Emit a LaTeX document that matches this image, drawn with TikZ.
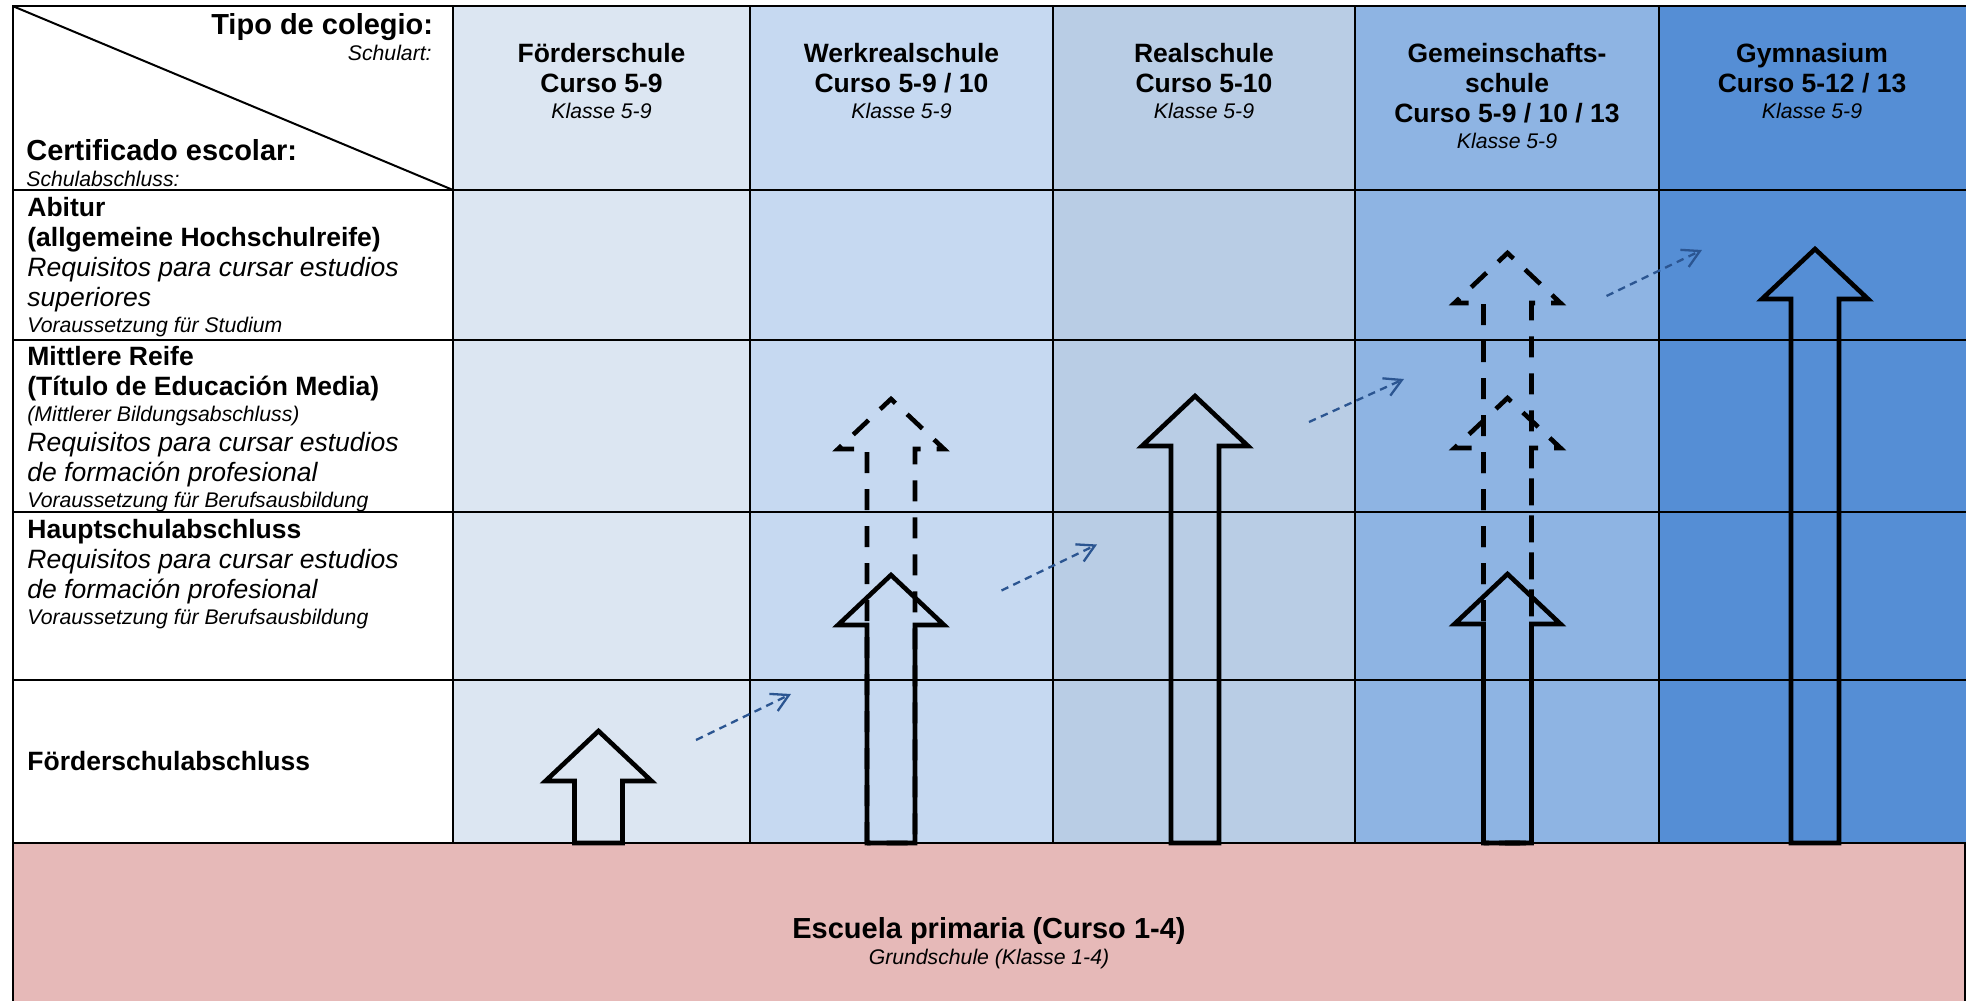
\documentclass[tikz,border=0pt]{standalone}
\usepackage{fontspec}
\setmainfont{Liberation Sans}
\usetikzlibrary{arrows.meta}

\definecolor{colFoerder}{HTML}{DCE6F2}
\definecolor{colWerk}{HTML}{C6D9F1}
\definecolor{colReal}{HTML}{B9CDE5}
\definecolor{colGemein}{HTML}{8EB4E3}
\definecolor{colGym}{HTML}{558ED5}
\definecolor{colPrim}{HTML}{E6B9B8}
\definecolor{colPass}{HTML}{2B5591}

% font sizes
\newcommand\fntTitle{\fontsize{14.5pt}{17pt}\selectfont\bfseries}
\newcommand\fntBold{\fontsize{13.25pt}{15pt}\selectfont\bfseries}
\newcommand\fntItal{\fontsize{13.25pt}{15pt}\selectfont\itshape}
\newcommand\fntSmall{\fontsize{10.6pt}{13pt}\selectfont\itshape}
% one line of a cell
\newcommand\lnTitle[1]{{\fntTitle #1\par}}
\newcommand\lnBold[1]{{\fntBold #1\par}}
\newcommand\lnItal[1]{{\fntItal #1\par}}
\newcommand\lnSmall[1]{{\fntSmall #1\par}}
% cell boxes, baseline = first line
\newcommand\leftcell[1]{\vtop{\hsize=210pt\parindent=0pt\parskip=0pt\raggedright #1}}
\newcommand\centercell[2]{\vtop{\hsize=#1\parindent=0pt\parskip=0pt\centering #2}}
% block arrow: style, centre x, tip y
\newcommand\schoolarrow[3]{%
  \draw[#1] ({#2-24},843) -- ({#2-24},{#3+50}) -- ({#2-53},{#3+50}) -- (#2,#3)
    -- ({#2+53},{#3+50}) -- ({#2+24},{#3+50}) -- ({#2+24},843) -- cycle;}

\begin{document}
\begin{tikzpicture}[x=0.5pt, y=-0.5pt,
    every node/.style={inner sep=0pt},
    tablerule/.style={draw=black, line width=1pt},
    solidarrow/.style={draw=black, line width=2.3pt, line join=miter},
    dasharrow/.style={solidarrow, dash pattern=on 10.5pt off 8pt},
    passarrow/.style={draw=colPass, line width=1.15pt, dash pattern=on 3.75pt off 2.75pt,
      -{Straight Barb[length=8.5pt, width=9.5pt]}}]
  \useasboundingbox (0,0) rectangle (1966,1001);
  % Column fills
  \foreach \xa/\xb/\col in {453/750/colFoerder, 750/1053/colWerk, 1053/1355/colReal,
                            1355/1659/colGemein, 1659/1966/colGym} {
    \fill[\col] (\xa,6) rectangle (\xb,843);
  }
  \fill[colPrim] (12.5,843) rectangle (1966,1010);
  % Table rules
  \foreach \x in {453, 750, 1053, 1355, 1659} {
    \draw[tablerule] (\x,6) -- (\x,843);
  }
  \foreach \y in {190, 340, 512, 680, 843} {
    \draw[tablerule] (12.5,\y) -- (1966,\y);
  }
  \draw[tablerule] (12.5,1010) -- (12.5,6) -- (1966,6);
  \draw[tablerule] (1965,843) -- (1965,1010);
  \draw[tablerule] (12.5,6) -- (453,190);
  % Corner cell
  \node[anchor=base east, font=\fntTitle] (tipo) at (433.5,34) {Tipo de colegio:};
  \node[anchor=base east, font=\fntSmall] (schulart) at (432,61) {Schulart:};
  \node[anchor=base west, font=\fntTitle] (certif) at (26,160) {Certificado escolar:};
  \node[anchor=base west, font=\fntSmall] (schulab) at (26,186) {Schulabschluss:};
  % School types
  \node[anchor=base] (hfoerder) at (601.5,62)
    {\centercell{140pt}{\lnBold{Förderschule}\lnBold{Curso 5-9}\lnSmall{Klasse 5-9}}};
  \node[anchor=base] (hwerk) at (901.5,62)
    {\centercell{140pt}{\lnBold{Werkrealschule}\lnBold{Curso 5-9 / 10}\lnSmall{Klasse 5-9}}};
  \node[anchor=base] (hreal) at (1204,62)
    {\centercell{140pt}{\lnBold{Realschule}\lnBold{Curso 5-10}\lnSmall{Klasse 5-9}}};
  \node[anchor=base] (hgemein) at (1507,62)
    {\centercell{140pt}{\lnBold{Gemeinschafts-}\lnBold{schule}\lnBold{Curso 5-9 / 10 / 13}\lnSmall{Klasse 5-9}}};
  \node[anchor=base] (hgym) at (1812,62)
    {\centercell{140pt}{\lnBold{Gymnasium}\lnBold{Curso 5-12 / 13}\lnSmall{Klasse 5-9}}};
  % Certificates
  \node[anchor=base west] (rabitur) at (27,216.7)
    {\leftcell{\lnBold{Abitur}\lnBold{(allgemeine Hochschulreife)}%
      \lnItal{Requisitos para cursar estudios}\lnItal{superiores}%
      \lnSmall{Voraussetzung für Studium}}};
  \node[anchor=base west] (rmittlere) at (27,365)
    {\leftcell{\lnBold{Mittlere Reife}\lnBold{(Título de Educación Media)}%
      \lnSmall{(Mittlerer Bildungsabschluss)}%
      \lnItal{Requisitos para cursar estudios}\lnItal{de formación profesional}%
      \lnSmall{Voraussetzung für Berufsausbildung}}};
  \node[anchor=base west] (rhaupt) at (27,538.3)
    {\leftcell{\lnBold{Hauptschulabschluss}%
      \lnItal{Requisitos para cursar estudios}\lnItal{de formación profesional}%
      \lnSmall{Voraussetzung für Berufsausbildung}}};
  \node[anchor=base west, font=\fntBold] (rfoerder) at (27,770) {Förderschulabschluss};
  % Primary school
  \node[anchor=base] (prim) at (989,938)
    {\centercell{300pt}{\lnTitle{Escuela primaria (Curso 1-4)}\lnSmall{Grundschule (Klasse 1-4)}}};
  % Possible paths (dashed)
  \schoolarrow{dasharrow}{891}{399}
  \schoolarrow{dasharrow}{1507.5}{398}
  \schoolarrow{dasharrow}{1507.5}{253}
  % Regular paths
  \schoolarrow{solidarrow}{598.5}{731}
  \schoolarrow{solidarrow}{891}{575}
  \schoolarrow{solidarrow}{1195}{396}
  \schoolarrow{solidarrow}{1507.5}{574}
  \schoolarrow{solidarrow}{1815}{249}
  % Changes of school
  \foreach \xa/\ya/\xb/\yb [count=\i] in {696/740/791/694, 1001.5/590.5/1097/544.5,
                                          1309/422/1404/379, 1606.5/296/1702/250} {
    \coordinate (pass\i a) at (\xa,\ya);
    \coordinate (pass\i b) at (\xb,\yb);
    \draw[passarrow] (pass\i a) -- (pass\i b);
  }
\end{tikzpicture}
\end{document}
